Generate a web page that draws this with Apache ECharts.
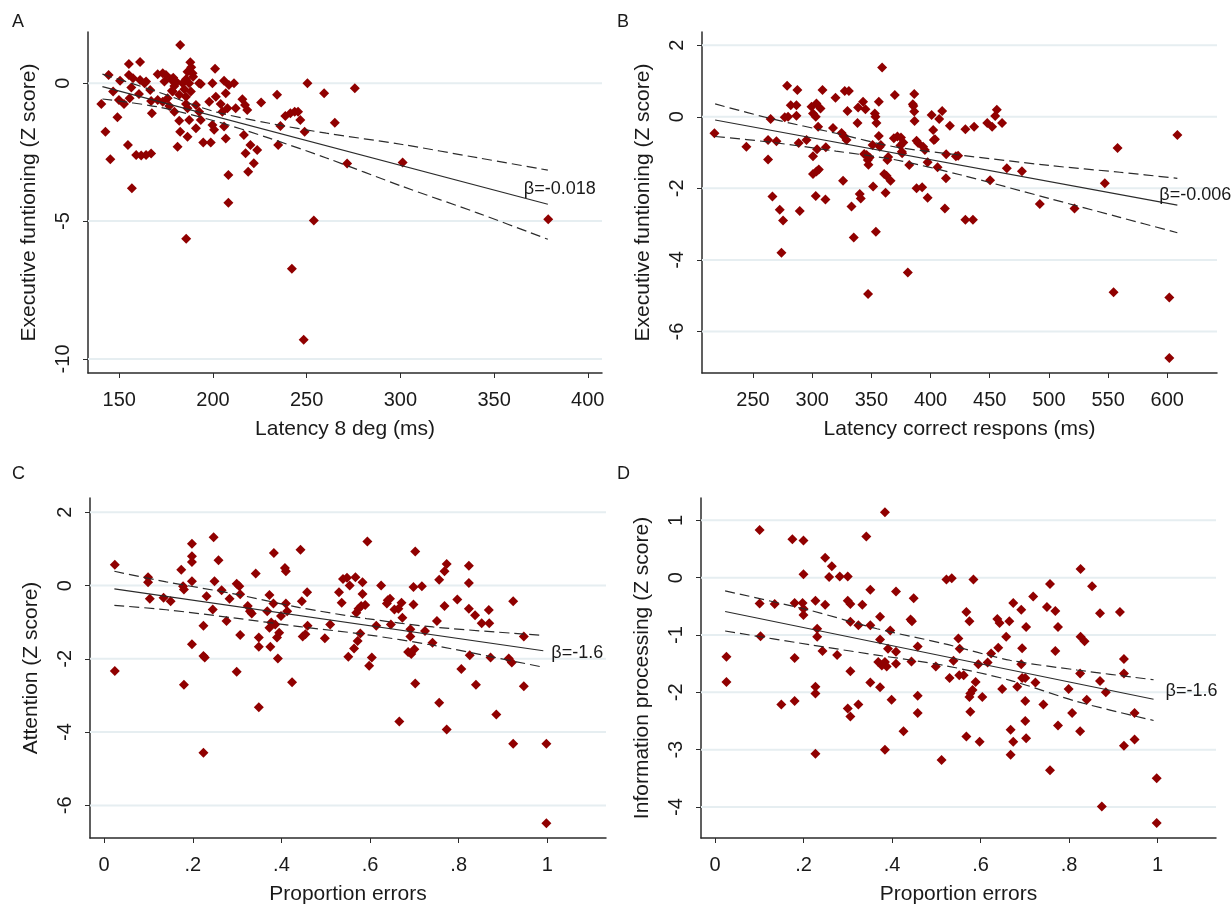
<!DOCTYPE html>
<html>
<head>
<meta charset="utf-8">
<title>Latency and errors vs Z scores</title>
<script src="https://cdn.jsdelivr.net/npm/echarts@6.0.0/dist/echarts.min.js"></script>
<style>
  html, body { margin: 0; padding: 0; background: #fff; }
  #chart { width: 1231px; height: 906px; }
</style>
</head>
<body>
<div id="chart"></div>
<script>
// ---- panel A: latency 8 deg vs executive functioning ----
const aXTicks = [150, 200, 250, 300, 350, 400]
const aYTicks = [0, -5, -10]
const aPoints = [
  [182.5, 1.39], [155.1, 0.70], [161.1, 0.77], [187.9, 0.76], [188.4, 0.58], [201.1, 0.53],
  [144.3, 0.30], [155.1, 0.30], [170.5, 0.33], [173.2, 0.36], [174.9, 0.30], [186.4, 0.42], [189.1, 0.36],
  [150.4, 0.09], [157.3, 0.18], [161.1, 0.12], [164.3, 0.06], [163.5, 0.0], [174.1, 0.06], [177.6, 0.15],
  [180.3, 0.06], [179.4, -0.10], [183.8, 0.0], [185.6, 0.15], [193.5, -0.03], [199.7, 0.0], [205.9, 0.09],
  [208.5, -0.06], [211.2, 0.0], [250.4, 0.0], [259.3, -0.36], [178.8, 0.20], [179.9, 0.0], [178.1, -0.27],
  [184.7, -0.22], [187.3, 0.0], [189.4, 0.24], [173.2, -0.67], [176.7, -0.82], [185.6, -0.75], [192.6, 0.0],
  [140.4, -0.75], [146.7, -0.30], [149.8, -0.61], [152.5, -0.75], [155.5, -0.54], [156.4, -0.15],
  [160.5, -0.39], [166.5, -0.24], [167.0, -0.64], [167.4, -1.09], [170.5, -0.61], [175.8, -0.54],
  [178.5, -0.30], [182.0, -0.42], [179.4, -1.03], [182.0, -1.36], [182.5, -1.76], [181.1, -2.30],
  [185.6, -0.49], [186.4, -0.91], [187.3, -1.33], [186.4, -1.94], [188.2, -0.30], [190.9, -0.79],
  [192.6, -1.03], [193.5, -1.33], [190.9, -1.63], [194.8, -2.15], [198.8, -2.15], [198.0, -0.67],
  [201.5, -0.49], [199.7, -1.51], [200.6, -1.69], [204.1, -0.75], [205.0, -1.03], [206.8, -0.36],
  [205.9, -1.57], [206.8, -2.00], [207.7, -0.91], [212.1, -0.91], [215.7, -0.58], [217.1, -0.79],
  [218.3, -0.97], [216.5, -1.88], [220.0, -2.24], [217.4, -2.54], [223.6, -2.42], [221.8, -2.90],
  [218.8, -3.21], [225.7, -0.70], [234.2, -0.42], [236.0, -1.55], [234.8, -2.24], [238.6, -1.19],
  [241.3, -1.09], [243.6, -1.03], [245.4, -1.03], [246.6, -1.33], [248.9, -1.76],
  [142.6, -1.76], [149.0, -1.23], [145.2, -2.76], [154.6, -2.24], [159.0, -2.60], [161.7, -2.62],
  [164.3, -2.60], [167.0, -2.55], [156.7, -3.81], [208.2, -3.33], [208.2, -4.33],
  [253.8, -4.98], [265.0, -1.43], [271.6, -2.91], [275.7, -0.18], [301.2, -2.87], [378.9, -4.93],
  [242.1, -6.73], [248.4, -9.30], [185.7, -5.64]
]
const aFit = [[141, -0.12], [378.7, -4.39]]
const aUpper = [[141, 0.33], [170, -0.30], [200, -1.01], [230, -1.45], [260.5, -1.81], [301, -2.22], [341, -2.70], [378.7, -3.15]]
const aLower = [[141, -0.57], [170, -0.85], [200, -1.35], [230, -1.99], [260.5, -2.71], [301, -3.74], [341, -4.70], [378.7, -5.66]]

// ---- panel B: latency correct response vs executive functioning ----
const bXTicks = [250, 300, 350, 400, 450, 500, 550, 600]
const bYTicks = [2, 0, -2, -4, -6]
const bPoints = [
  [359.1, 1.38], [278.8, 0.87], [287.5, 0.75], [308.7, 0.75], [327.5, 0.72], [331.0, 0.72], [319.7, 0.53],
  [369.8, 0.61], [386.2, 0.64], [281.9, 0.32], [286.7, 0.32], [286.7, 0.03], [276.8, -0.01], [279.6, 0.0],
  [264.9, -0.06], [299.4, 0.28], [303.6, 0.37], [300.7, 0.09], [303.0, 0.0], [307.0, 0.23], [305.0, -0.28],
  [317.6, -0.31], [329.8, 0.16], [338.8, 0.26], [343.0, 0.42], [345.0, 0.21], [338.3, -0.17], [352.9, 0.09],
  [353.5, 0.0], [354.3, -0.17], [356.3, 0.42], [356.3, -0.54], [357.1, -0.84], [358.0, -0.79], [351.0, -0.79],
  [346.0, -1.07], [347.0, -1.21], [347.5, -1.34], [348.5, -1.14], [343.9, -1.04], [360.8, -1.60], [362.8, -1.65],
  [366.2, -1.79], [362.0, -2.12], [351.5, -1.95], [369.0, -0.60], [372.0, -0.55], [375.0, -0.58], [374.5, -0.80],
  [377.0, -0.72], [375.7, -0.98], [376.0, -1.02], [364.2, -1.12], [363.5, -1.21], [382.0, -1.35],
  [385.0, 0.35], [386.2, 0.15], [386.5, -0.12], [385.5, 0.30], [388.2, -0.67], [389.5, -0.73], [393.7, -0.84],
  [395.2, -0.93], [397.5, -1.27], [400.9, 0.05], [402.2, -0.37], [402.8, -0.65], [403.7, -0.63], [407.3, -0.06],
  [409.8, 0.16], [416.3, -0.25], [405.9, -1.41], [413.0, -1.72], [421.4, -1.10], [388.2, -2.00], [392.9, -1.97],
  [397.5, -2.26], [412.1, -2.56], [217.4, -0.46], [244.4, -0.84], [262.7, -0.65], [269.8, -0.68], [262.7, -1.19],
  [266.4, -2.23], [272.6, -2.60], [275.4, -2.90], [274.0, -3.80], [289.5, -2.63], [288.6, -0.73], [295.2, -0.65],
  [300.7, -1.10], [300.7, -1.60], [303.6, -1.53], [305.6, -1.47], [304.1, -0.91], [303.0, -2.21], [311.2, -2.31],
  [311.5, -0.85], [326.1, -1.79], [324.8, -0.45], [326.7, -0.54], [329.0, -0.65], [333.2, -2.51], [335.1, -3.37],
  [340.2, -2.16], [341.0, -2.28], [353.8, -3.21], [380.8, -4.35], [347.2, -4.95],
  [413.2, -1.05], [423.3, -1.09], [429.4, -0.35], [436.8, -0.28], [429.4, -2.88], [435.8, -2.88], [447.9, -0.17],
  [452.0, -0.28], [454.6, 0.02], [456.0, 0.20], [460.4, -0.17], [450.3, -1.77], [464.4, -1.44], [477.2, -1.52],
  [492.3, -2.44], [521.6, -2.56], [547.2, -1.86], [558.0, -0.87], [554.6, -4.90], [601.7, -5.05], [601.7, -6.74],
  [608.5, -0.51]
]
const bFit = [[218, -0.09], [608.5, -2.47]]
const bUpper = [[218, 0.36], [265, -0.05], [320, -0.46], [370, -0.84], [425, -1.07], [500, -1.36], [560, -1.55], [608.5, -1.72]]
const bLower = [[218, -0.55], [265, -0.71], [320, -0.96], [370, -1.20], [425, -1.62], [500, -2.28], [560, -2.81], [608.5, -3.24]]

// ---- panel C: proportion errors vs attention ----
const propTicks = [0, 0.2, 0.4, 0.6, 0.8, 1]
const propLabels = ['0', '.2', '.4', '.6', '.8', '1']
const cYTicks = [2, 0, -2, -4, -6]
const cPoints = [
  [0.024, 0.57], [0.024, -2.33], [0.099, 0.23], [0.099, 0.09], [0.103, -0.36], [0.134, -0.33], [0.150, -0.43],
  [0.174, 0.43], [0.178, -0.02], [0.180, -0.11], [0.180, -2.71], [0.198, 1.14], [0.198, 0.80], [0.198, 0.64],
  [0.198, 0.12], [0.198, -1.60], [0.224, -1.10], [0.224, -1.92], [0.227, -1.96], [0.224, -4.56], [0.231, -0.29],
  [0.245, -0.65], [0.247, 1.32], [0.249, 0.12], [0.258, 0.69], [0.265, -0.13], [0.276, -0.97], [0.283, -0.36],
  [0.299, 0.05], [0.299, -2.35], [0.305, -0.02], [0.307, -0.24], [0.307, -1.35], [0.324, -0.56], [0.329, -0.70],
  [0.333, -0.76], [0.342, 0.33], [0.349, -1.42], [0.349, -1.67], [0.349, -3.32], [0.368, -0.70], [0.373, -0.26],
  [0.373, -1.15], [0.375, -1.67], [0.377, -1.01], [0.382, -0.49], [0.383, 0.89], [0.386, -1.06], [0.390, -1.42],
  [0.392, -1.99], [0.395, -1.29], [0.399, -0.83], [0.408, 0.48], [0.410, 0.39], [0.410, -0.49], [0.413, -0.70],
  [0.424, -2.64], [0.443, 0.98], [0.446, -0.43], [0.448, -1.39], [0.454, -1.33], [0.458, -0.18], [0.459, -1.10],
  [0.498, -1.44], [0.510, -1.06], [0.530, -0.18], [0.536, -0.47], [0.539, 0.18], [0.548, 0.21], [0.551, -1.94],
  [0.554, 0.0], [0.564, -1.72], [0.567, 0.23], [0.569, -0.74], [0.572, -1.51], [0.574, -0.63], [0.578, -1.31],
  [0.580, -0.56], [0.583, 0.09], [0.583, -0.23], [0.589, -0.53], [0.594, 1.20], [0.598, -2.19], [0.604, -1.96],
  [0.614, -1.10], [0.625, 0.0], [0.638, -0.49], [0.640, -0.40], [0.645, -0.36], [0.647, -1.06], [0.655, -0.65],
  [0.664, -0.63], [0.666, -3.71], [0.671, -0.47], [0.673, -0.88], [0.686, -1.81], [0.691, -1.19], [0.691, -1.39],
  [0.693, -1.87], [0.698, -0.04], [0.698, -0.52], [0.700, -1.74], [0.702, 0.93], [0.702, -2.67], [0.717, -0.02],
  [0.724, -1.24], [0.741, -1.56], [0.751, -0.97], [0.756, 0.16], [0.756, -3.20], [0.768, 0.39], [0.768, -0.56],
  [0.773, 0.59], [0.773, -3.93], [0.797, -0.38], [0.806, -2.28], [0.823, 0.54], [0.823, 0.07], [0.823, -0.63],
  [0.825, -1.90], [0.837, -0.81], [0.839, -2.71], [0.852, -1.03], [0.868, -0.67], [0.869, -1.03], [0.872, -1.96],
  [0.885, -3.52], [0.913, -1.99], [0.920, -2.10], [0.923, -0.43], [0.923, -4.32], [0.947, -1.39], [0.947, -2.75],
  [0.998, -4.32], [0.998, -6.49]
]
const cFit = [[0.023, -0.09], [0.991, -1.78]]
const cUpper = [[0.023, 0.39], [0.14, 0.10], [0.29, -0.22], [0.441, -0.60], [0.592, -0.90], [0.742, -1.13], [0.991, -1.36]]
const cLower = [[0.023, -0.54], [0.14, -0.66], [0.29, -0.88], [0.441, -1.12], [0.592, -1.34], [0.742, -1.63], [0.991, -2.23]]

// ---- panel D: proportion errors vs information processing ----
const dYTicks = [1, 0, -1, -2, -3, -4]
const dPoints = [
  [0.026, -1.38], [0.026, -1.82], [0.101, 0.83], [0.101, -0.45], [0.103, -1.02], [0.135, -0.46], [0.150, -2.21],
  [0.175, 0.67], [0.180, -0.44], [0.180, -1.40], [0.180, -2.15], [0.200, 0.65], [0.200, 0.06], [0.198, -0.44],
  [0.200, -0.54], [0.200, -0.65], [0.227, -0.40], [0.227, -1.90], [0.227, -2.02], [0.227, -3.07], [0.231, -0.89],
  [0.231, -1.03], [0.243, -1.28], [0.249, 0.35], [0.249, -0.47], [0.258, 0.01], [0.264, 0.20], [0.276, -1.35],
  [0.282, 0.02], [0.300, 0.02], [0.300, -0.40], [0.300, -2.28], [0.306, -0.46], [0.306, -0.77], [0.306, -1.63],
  [0.306, -2.42], [0.324, -0.83], [0.324, -2.21], [0.333, -0.47], [0.342, 0.72], [0.351, -0.21], [0.351, -0.83],
  [0.351, -1.83], [0.373, -0.68], [0.373, -1.08], [0.373, -1.91], [0.369, -1.47], [0.377, -1.53], [0.384, 1.14],
  [0.384, -1.47], [0.384, -3.00], [0.388, -1.55], [0.391, -1.24], [0.396, -0.92], [0.399, -2.13], [0.409, -0.24],
  [0.409, -1.29], [0.409, -1.50], [0.426, -2.68], [0.442, -0.73], [0.445, -0.76], [0.444, -1.46], [0.449, -0.36],
  [0.458, -1.20], [0.458, -2.06], [0.458, -2.36], [0.499, -1.55], [0.512, -3.18], [0.523, -0.03], [0.530, -1.75],
  [0.535, -0.01], [0.539, -1.45], [0.550, -1.06], [0.553, -1.24], [0.552, -1.70], [0.562, -1.70], [0.568, -0.60],
  [0.568, -2.77], [0.575, -0.76], [0.575, -2.08], [0.577, -2.34], [0.577, -2.02], [0.582, -1.96], [0.584, -0.03],
  [0.589, -1.82], [0.595, -1.51], [0.598, -2.86], [0.604, -2.08], [0.616, -1.48], [0.624, -1.32], [0.638, -0.72],
  [0.643, -0.79], [0.640, -1.22], [0.649, -1.94], [0.658, -1.03], [0.665, -0.76], [0.668, -2.65], [0.668, -3.09],
  [0.674, -0.44], [0.674, -2.86], [0.683, -1.90], [0.692, -0.56], [0.692, -1.51], [0.694, -1.23], [0.694, -1.75],
  [0.701, -1.75], [0.701, -2.15], [0.701, -2.50], [0.703, -0.86], [0.703, -2.80], [0.719, -0.33], [0.724, -1.83],
  [0.742, -2.21], [0.750, -0.51], [0.757, -0.11], [0.757, -3.36], [0.769, -0.58], [0.769, -1.28], [0.775, -0.86],
  [0.775, -2.58], [0.799, -1.94], [0.807, -2.36], [0.826, 0.15], [0.826, -1.03], [0.825, -1.67], [0.825, -2.68],
  [0.835, -1.11], [0.840, -2.13], [0.852, -0.15], [0.870, -0.62], [0.870, -1.80], [0.874, -3.99], [0.883, -2.00],
  [0.915, -0.60], [0.924, -1.42], [0.924, -1.67], [0.924, -2.93], [0.948, -2.36], [0.948, -2.82], [0.998, -3.50],
  [0.998, -4.28]
]
const dFit = [[0.023, -0.59], [0.991, -2.12]]
const dUpper = [[0.023, -0.23], [0.215, -0.57], [0.366, -0.89], [0.517, -1.15], [0.667, -1.44], [0.818, -1.61], [0.991, -1.78]]
const dLower = [[0.023, -0.93], [0.215, -1.17], [0.366, -1.35], [0.517, -1.53], [0.667, -1.79], [0.818, -2.16], [0.991, -2.49]]

const FONT = '"Liberation Sans", Arial, sans-serif'
const TEXT = '#1a1a1a'
const MARKER = '#900000'
const LINE = '#2b2b2b'
const GRIDLINE = '#e6eef1'

const panels = [
  {
    letter: 'A', box: [88, 32, 514, 341], xRange: [133.3, 407.6], yRange: [-10.51, 1.86],
    xTicks: aXTicks, yTicks: aYTicks, xName: 'Latency 8 deg (ms)', yName: 'Executive funtioning (Z score)',
    points: aPoints, fit: aFit, upper: aUpper, lower: aLower, beta: 'β=-0.018', betaOffset: [-24, -15]
  },
  {
    letter: 'B', box: [702, 32, 515, 341], xRange: [206.9, 642], yRange: [-7.16, 2.37],
    xTicks: bXTicks, yTicks: bYTicks, xName: 'Latency correct respons (ms)', yName: 'Executive funtioning (Z score)',
    points: bPoints, fit: bFit, upper: bUpper, lower: bLower, beta: 'β=-0.006', betaOffset: [-18, -10]
  },
  {
    letter: 'C', box: [90, 498, 516, 342], xRange: [-0.032, 1.1325], yRange: [-6.89, 2.39],
    xTicks: propTicks, xLabels: propLabels, yTicks: cYTicks, xName: 'Proportion errors', yName: 'Attention (Z score)',
    points: cPoints, fit: cFit, upper: cUpper, lower: cLower, beta: 'β=-1.6', betaOffset: [8, 2]
  },
  {
    letter: 'D', box: [701, 498, 515, 342], xRange: [-0.0315, 1.132], yRange: [-4.54, 1.39],
    xTicks: propTicks, xLabels: propLabels, yTicks: dYTicks, xName: 'Proportion errors', yName: 'Information processing (Z score)',
    points: dPoints, fit: dFit, upper: dUpper, lower: dLower, beta: 'β=-1.6', betaOffset: [12, -8]
  }
]

const chart = echarts.init(document.getElementById('chart'))

const grid = []
const xAxis = []
const yAxis = []
const series = []
const graphic = []

const axisLine = { show: true, onZero: false, lineStyle: { color: LINE, width: 1.5 } }

panels.forEach((p, i) => {
  grid.push({ left: p.box[0], top: p.box[1], width: p.box[2], height: p.box[3] })

  xAxis.push({
    type: 'value', gridIndex: i, min: p.xRange[0], max: p.xRange[1],
    name: p.xName, nameLocation: 'middle', nameGap: 46,
    nameTextStyle: { fontFamily: FONT, fontSize: 21, color: TEXT },
    axisLine,
    axisTick: { show: true, inside: false, length: 5, customValues: p.xTicks, lineStyle: { color: LINE } },
    axisLabel: {
      customValues: p.xTicks, margin: 17, fontFamily: FONT, fontSize: 20, color: TEXT,
      formatter: v => p.xLabels ? p.xLabels[p.xTicks.indexOf(v)] : String(v)
    },
    splitLine: { show: false }
  })

  yAxis.push({
    type: 'value', gridIndex: i, min: p.yRange[0], max: p.yRange[1],
    name: p.yName, nameLocation: 'middle', nameGap: 48,
    nameTextStyle: { fontFamily: FONT, fontSize: 21, color: TEXT },
    axisLine,
    axisTick: { show: true, inside: false, length: 5, customValues: p.yTicks, lineStyle: { color: LINE } },
    axisLabel: {
      customValues: p.yTicks, rotate: 90, margin: 15, fontFamily: FONT, fontSize: 20, color: TEXT
    },
    splitLine: { show: false }
  })

  // horizontal grid lines at the y ticks
  p.yTicks.forEach(t => {
    series.push({
      type: 'line', xAxisIndex: i, yAxisIndex: i, silent: true, symbol: 'none', z: 1,
      lineStyle: { color: GRIDLINE, width: 2 },
      data: [[p.xRange[0], t], [p.xRange[1], t]]
    })
  })

  series.push({
    type: 'scatter', xAxisIndex: i, yAxisIndex: i, z: 3,
    symbol: 'diamond', symbolSize: 10,
    itemStyle: { color: MARKER, opacity: 1 },
    data: p.points
  })

  series.push({
    type: 'line', xAxisIndex: i, yAxisIndex: i, z: 4, symbol: 'none', silent: true,
    lineStyle: { color: LINE, width: 1.2 },
    data: p.fit,
    endLabel: {
      show: true, formatter: p.beta, distance: 0, offset: p.betaOffset,
      fontFamily: FONT, fontSize: 18, color: TEXT
    }
  })

  ;[p.upper, p.lower].forEach(ci => {
    series.push({
      type: 'line', xAxisIndex: i, yAxisIndex: i, z: 4, symbol: 'none', silent: true, smooth: 0.3,
      lineStyle: { color: LINE, width: 1.2, type: [10, 5] },
      data: ci
    })
  })

  graphic.push({
    type: 'text', left: i % 2 === 0 ? 12 : 617, top: i < 2 ? 13 : 465,
    style: { text: p.letter, font: '18px ' + FONT, fill: TEXT }
  })
})

chart.setOption({
  backgroundColor: '#fff',
  animation: false,
  grid,
  xAxis,
  yAxis,
  series,
  graphic
})
</script>
</body>
</html>
